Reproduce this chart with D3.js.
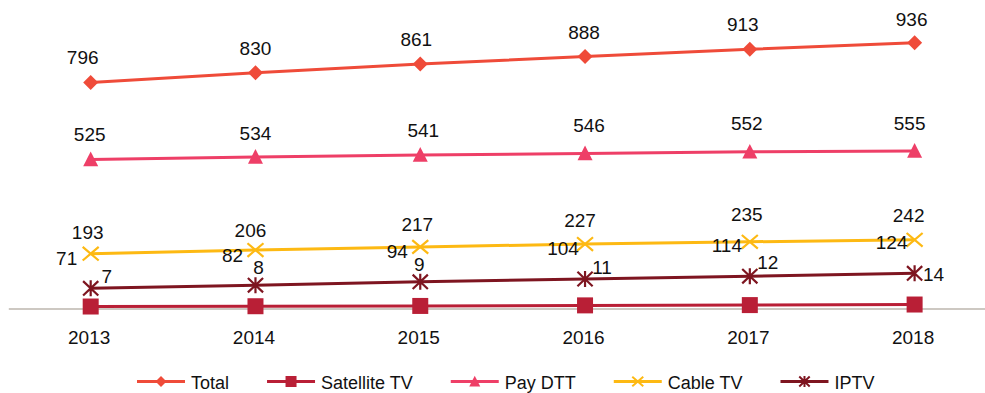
<!DOCTYPE html>
<html>
<head>
<meta charset="utf-8">
<script src="https://cdn.jsdelivr.net/npm/d3@7"></script>
<style>
  html, body { margin: 0; padding: 0; background: #fff; }
  svg { display: block; font-family: "Liberation Sans", Arial, Helvetica, sans-serif; }
</style>
</head>
<body>
<svg id="chart" width="985" height="393"></svg>
<script>
// Pay-TV subscribers by platform, 2013–2018
const years = ["2013", "2014", "2015", "2016", "2017", "2018"];
const totalValues     = [796, 830, 861, 888, 913, 936];
const satelliteValues = [7, 8, 9, 11, 12, 14];
const payDttValues    = [525, 534, 541, 546, 552, 555];
const cableValues     = [193, 206, 217, 227, 235, 242];
const iptvValues      = [71, 82, 94, 104, 114, 124];

const seriesNames = ["Total", "Satellite TV", "Pay DTT", "Cable TV", "IPTV"];

// styling per series
const styles = {
  "Total":        { color: "#EF4B39", symbol: "diamond" },
  "Satellite TV": { color: "#B91F36", symbol: "square" },
  "Pay DTT":      { color: "#EE3F67", symbol: "triangle" },
  "Cable TV":     { color: "#FDB913", symbol: "x" },
  "IPTV":         { color: "#7E1520", symbol: "asterisk" }
};

// label placement: offset of each label's (centre, baseline) from its marker
const labelOffsets = {
  "Total":        [[-8, -19], [0, -18], [-4, -18], [-1, -17], [-7, -18], [-3, -17]],
  "Satellite TV": [[16, -24], [3, -32], [-1, -35], [17, -31], [18, -36], [19, -24]],
  "Pay DTT":      [[-1, -18], [0, -17], [3, -18], [4, -21], [-3, -22], [-5, -21]],
  "Cable TV":     [[-3, -15], [-5, -13], [-3, -16], [-5, -17], [-3, -21], [-6, -18]],
  "IPTV":         [[-24, -23], [-23, -23], [-23, -24], [-22, -24], [-23, -24], [-23, -24]]
};

const series = [
  { name: "Total",        values: totalValues },
  { name: "Satellite TV", values: satelliteValues },
  { name: "Pay DTT",      values: payDttValues },
  { name: "Cable TV",     values: cableValues },
  { name: "IPTV",         values: iptvValues }
];

const svg = d3.select("#chart");

const x = d3.scalePoint().domain(years).range([8.3, 997]).padding(0.5);
const y = d3.scaleLinear().domain([0, 1000]).range([308.5, 24.6]);

// x axis on the zero line
const axis = svg.append("g")
  .attr("transform", `translate(0,${y(0)})`)
  .call(d3.axisBottom(x).tickSize(0).tickPadding(22));
axis.select(".domain").attr("stroke", "#BDB6AE").attr("stroke-width", 1.6);
axis.selectAll("text")
  .attr("font-size", 19)
  .attr("fill", "#111")
  .attr("font-family", "Liberation Sans, Arial, sans-serif")
  .attr("dx", -2);

// marker shapes
function markerPath(type, s) {
  const h = s / 2;
  switch (type) {
    case "diamond":
      return `M0,${-h}L${h},0L0,${h}L${-h},0Z`;
    case "square":
      return `M${-h},${-h}H${h}V${h}H${-h}Z`;
    case "triangle":
      return `M0,${-h * 1.05}L${h},${h * 0.9}L${-h},${h * 0.9}Z`;
    case "x":
      return `M${-h},${-h * 0.85}L${h},${h * 0.85}M${-h},${h * 0.85}L${h},${-h * 0.85}`;
    case "asterisk":
      return `M${-h * 0.95},${-h * 0.9}L${h * 0.95},${h * 0.9}M${-h * 0.95},${h * 0.9}L${h * 0.95},${-h * 0.9}M0,${-h}L0,${h}`;
  }
}
const markerSize = { diamond: 15, square: 16, triangle: 15, x: 16, asterisk: 16 };
const isStroke = t => t === "x" || t === "asterisk";

const line = d3.line()
  .x((d, i) => x(years[i]))
  .y(d => y(d));

const plot = svg.append("g");

series.forEach(s => {
  const st = styles[s.name];
  const g = plot.append("g");
  g.append("path")
    .datum(s.values)
    .attr("d", line)
    .attr("fill", "none")
    .attr("stroke", st.color)
    .attr("stroke-width", 3);

  g.selectAll("path.marker")
    .data(s.values)
    .join("path")
    .attr("class", "marker")
    .attr("transform", (d, i) => `translate(${x(years[i])},${y(d)})`)
    .attr("d", markerPath(st.symbol, markerSize[st.symbol]))
    .attr("fill", isStroke(st.symbol) ? "none" : st.color)
    .attr("stroke", isStroke(st.symbol) ? st.color : "none")
    .attr("stroke-width", 2.2);
});

// data labels
series.forEach(s => {
  const offs = labelOffsets[s.name];
  svg.append("g").selectAll("text")
    .data(s.values)
    .join("text")
    .attr("x", (d, i) => x(years[i]) + offs[i][0])
    .attr("y", (d, i) => y(d) + offs[i][1])
    .attr("text-anchor", "middle")
    .attr("font-size", 19)
    .attr("fill", "#111")
    .text(d => d);
});

// legend
const legend = svg.append("g").attr("transform", "translate(137,381.5)");
let cursor = 0;
seriesNames.forEach(name => {
  const st = styles[name];
  const item = legend.append("g").attr("transform", `translate(${cursor},0)`);
  item.append("line")
    .attr("x1", 0).attr("x2", 48)
    .attr("y1", 0).attr("y2", 0)
    .attr("stroke", st.color)
    .attr("stroke-width", 3);
  item.append("path")
    .attr("transform", "translate(24,0)")
    .attr("d", markerPath(st.symbol, 11))
    .attr("fill", isStroke(st.symbol) ? "none" : st.color)
    .attr("stroke", isStroke(st.symbol) ? st.color : "none")
    .attr("stroke-width", 2);
  const t = item.append("text")
    .attr("x", 54)
    .attr("y", 7.5)
    .attr("font-size", 18)
    .attr("fill", "#111")
    .text(name);
  cursor += 54 + t.node().getComputedTextLength() + 38;
});
</script>
</body>
</html>
